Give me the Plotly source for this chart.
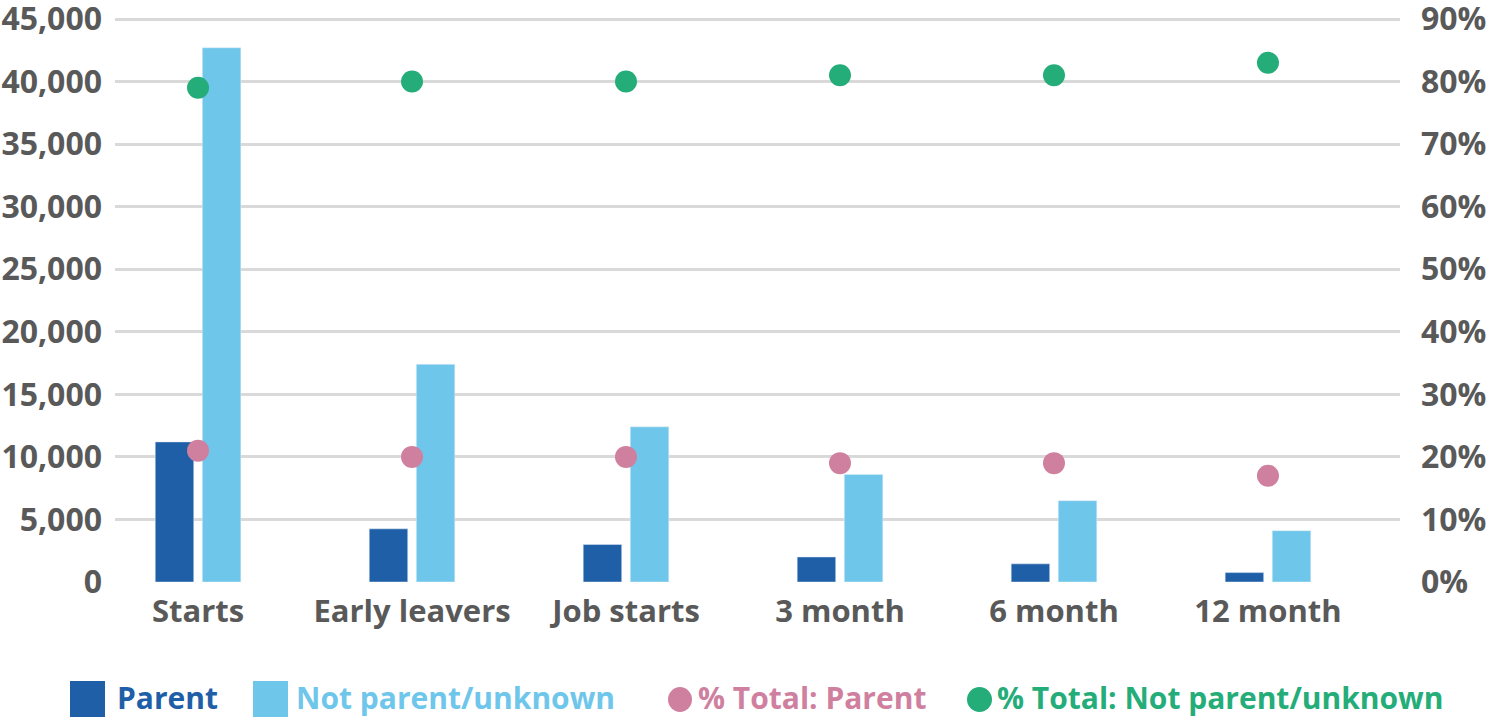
import plotly.graph_objects as go

categories = ["Starts", "Early leavers", "Job starts", "3 month", "6 month", "12 month"]
parent = [11200, 4250, 3000, 2000, 1450, 750]
not_parent = [42700, 17400, 12400, 8600, 6500, 4100]
pct_parent = [0.21, 0.20, 0.20, 0.19, 0.19, 0.17]
pct_not_parent = [0.79, 0.80, 0.80, 0.81, 0.81, 0.83]

series_names = ["Parent", "Not parent/unknown", "% Total: Parent", "% Total: Not parent/unknown"]
colors = ["#1f5fa7", "#6fc6eb", "#d0809f", "#24ad79"]

left_ticks = list(range(0, 45001, 5000))
left_labels = [f"{v:,}" for v in left_ticks]
right_ticks = [i / 100 for i in range(0, 91, 10)]
right_labels = [f"{int(round(v * 100))}%" for v in right_ticks]

W, H = 1491, 721
PL, PR, PT, PB = 115, 1400, 15, 582
TEXT = "#595959"
FONT = "Open Sans"

fig = go.Figure()
fig.add_trace(go.Bar(x=categories, y=parent, name=series_names[0], marker_color=colors[0],
                     width=0.18, offset=-0.2, showlegend=False))
fig.add_trace(go.Bar(x=categories, y=not_parent, name=series_names[1], marker_color=colors[1],
                     width=0.18, offset=0.02, showlegend=False))
fig.add_trace(go.Scatter(x=categories, y=pct_parent, name=series_names[2], mode="markers",
                         marker=dict(color=colors[2], size=22), yaxis="y2", showlegend=False))
fig.add_trace(go.Scatter(x=categories, y=pct_not_parent, name=series_names[3], mode="markers",
                         marker=dict(color=colors[3], size=22), yaxis="y2", showlegend=False))


def px(x):
    return (x - PL) / (PR - PL)


def py(y):
    return (PB - y) / (PB - PT)


shapes = []
annotations = []
legend_items = [
    ("rect", 70, 105, 115),
    ("rect", 253, 288, 294),
    ("circle", 668, 692, 696),
    ("circle", 967, 992, 995),
]
for i, (kind, x0, x1, tx) in enumerate(legend_items):
    if kind == "rect":
        y0, y1 = 681, 717
    else:
        y0, y1 = 687, 712
    shapes.append(dict(type=kind, xref="paper", yref="paper", x0=px(x0), x1=px(x1),
                       y0=py(y1), y1=py(y0), fillcolor=colors[i], line=dict(width=0)))
    annotations.append(dict(xref="paper", yref="paper", x=px(tx), y=py(697), xanchor="left",
                            yanchor="middle", showarrow=False, text=series_names[i],
                            font=dict(family=FONT, size=30, color=colors[i], weight="bold")))

ymax = 45000 * (PB - PT) / 563
fig.update_layout(
    width=W, height=H,
    margin=dict(l=PL, r=W - PR, t=PT, b=H - PB, pad=0, autoexpand=False),
    plot_bgcolor="white", paper_bgcolor="white",
    barmode="overlay",
    showlegend=False,
    shapes=shapes,
    annotations=annotations,
    xaxis=dict(type="category", range=[-0.388, 5.617], showgrid=False, showline=False,
               zeroline=False, ticks="", ticklabelstandoff=8, automargin=False,
               tickfont=dict(family=FONT, size=31, color=TEXT, weight="bold")),
    yaxis=dict(range=[0, ymax], tickvals=left_ticks, ticktext=left_labels,
               showgrid=True, gridcolor="#d9d9d9", gridwidth=3, zeroline=False,
               showline=False, ticks="", ticklabelstandoff=12, automargin=False,
               ticklabeloverflow="allow",
               tickfont=dict(family=FONT, size=32, color=TEXT, weight="bold")),
    yaxis2=dict(range=[0, ymax / 50000], tickvals=right_ticks, ticktext=right_labels,
                overlaying="y", side="right", showgrid=False, zeroline=False,
                showline=False, ticks="", ticklabelstandoff=20, automargin=False,
                ticklabeloverflow="allow",
                tickfont=dict(family=FONT, size=32, color=TEXT, weight="bold")),
)

fig.write_html("out.html", config={"displayModeBar": False},
               post_script="document.body.style.margin='0';document.body.style.overflow='hidden';")
